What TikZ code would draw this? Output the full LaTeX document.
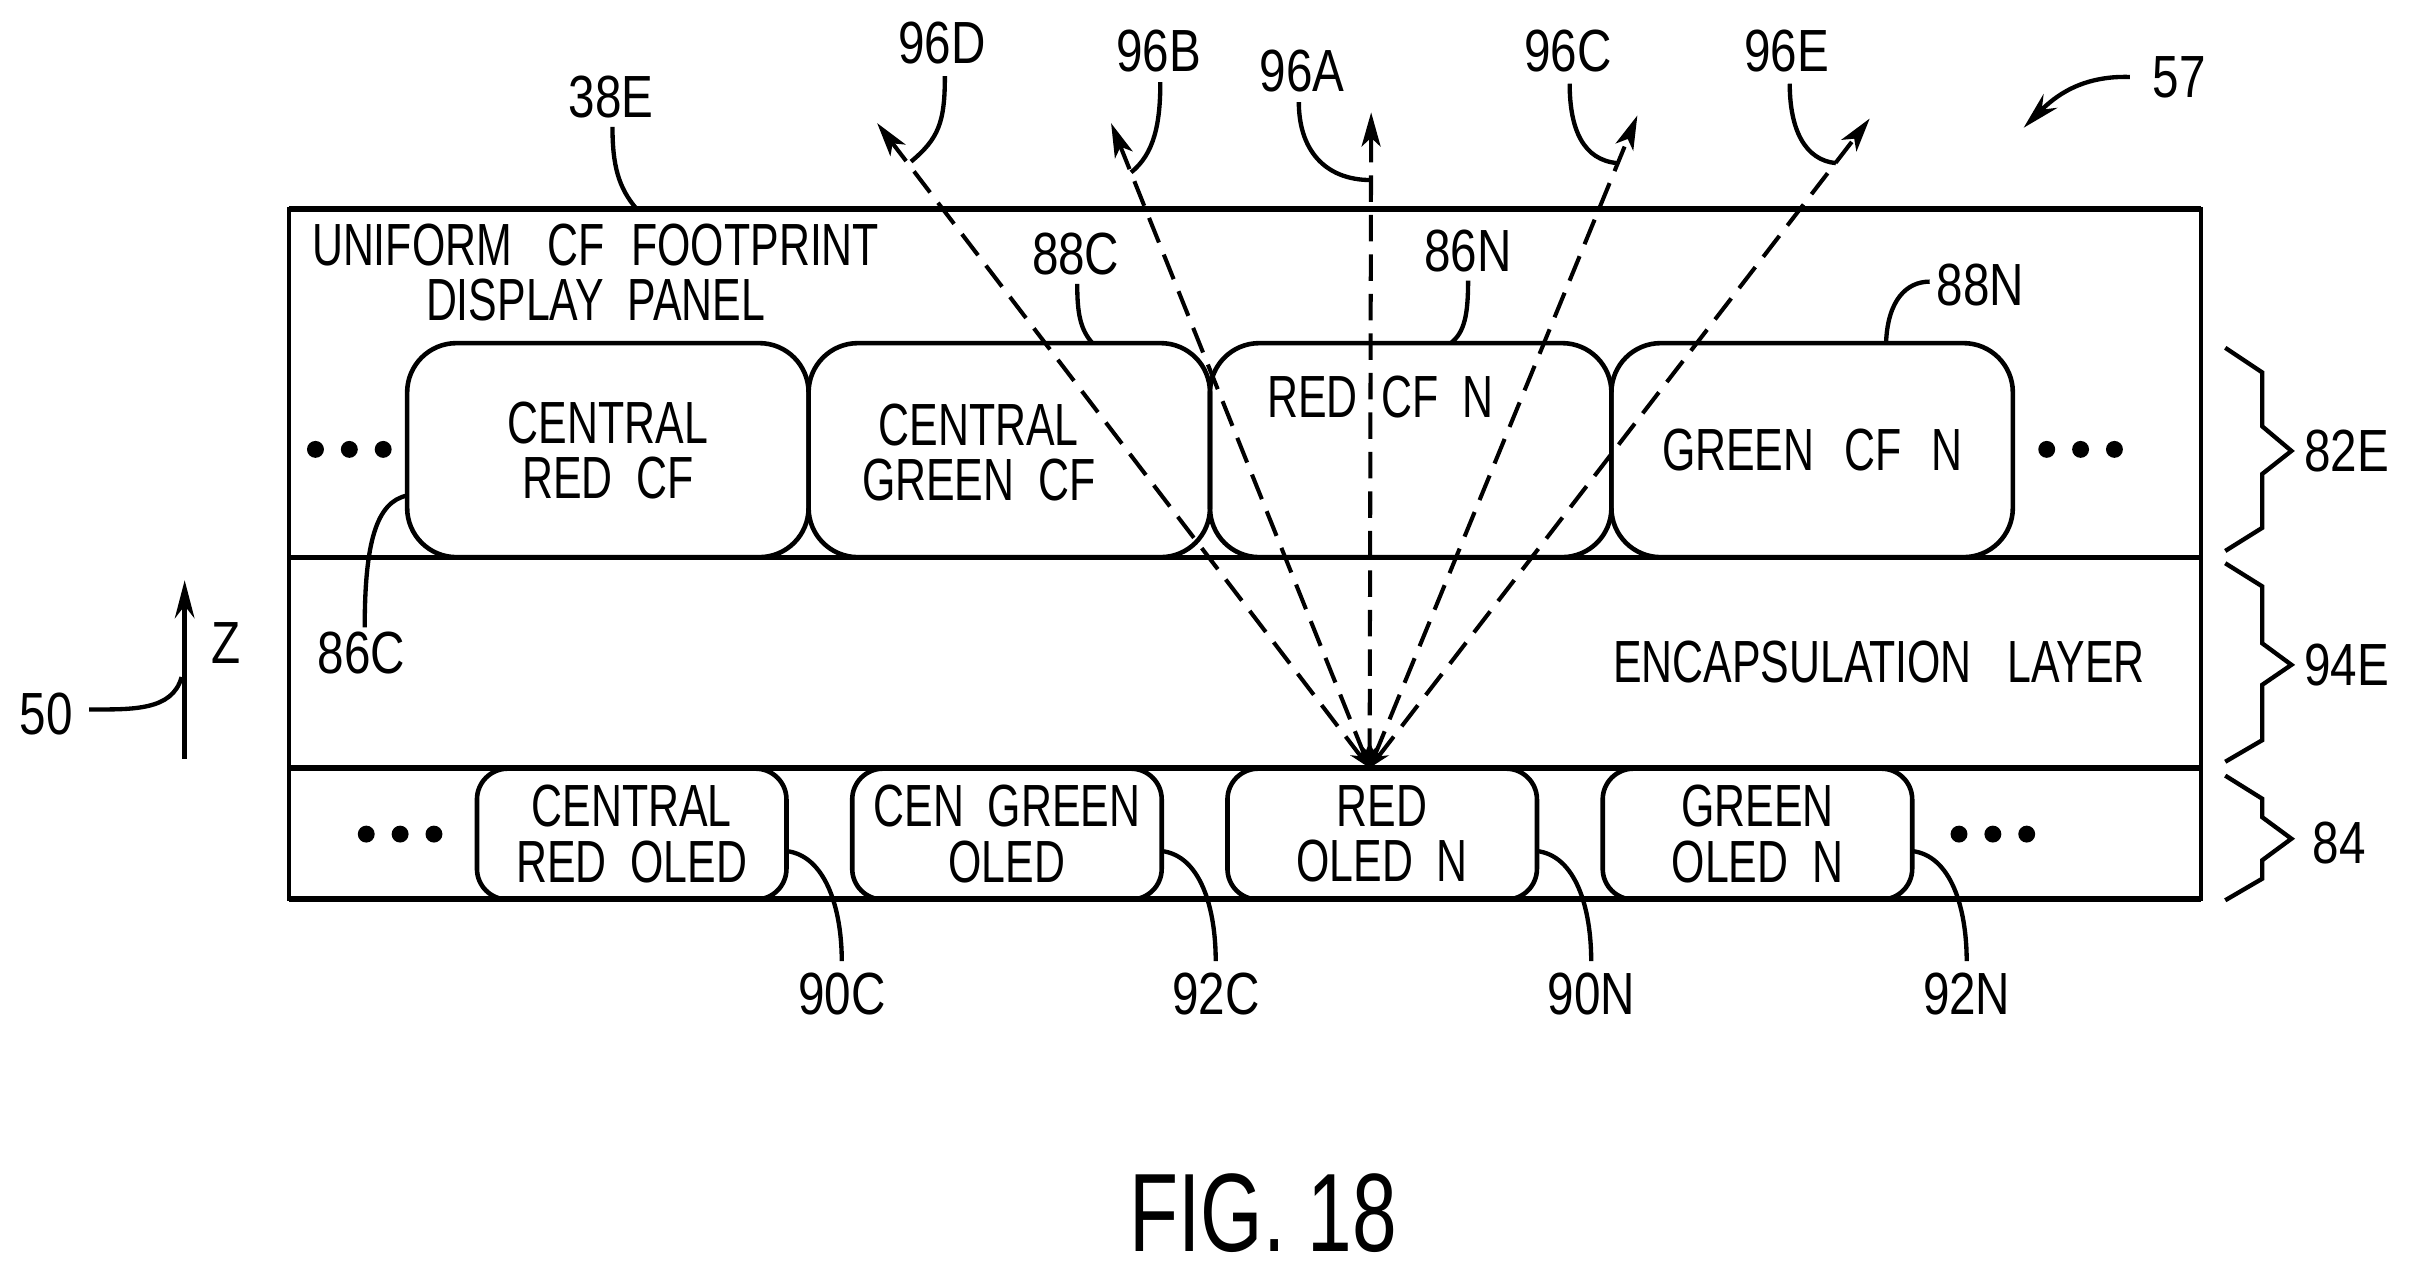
\documentclass[tikz,border=0pt]{standalone}
\usepackage{fontspec}
\setmainfont[FakeStretch=0.72]{Liberation Sans}
\newfontfamily\numfont[FakeStretch=0.8]{Liberation Sans}
\usetikzlibrary{arrows.meta,positioning}
\begin{document}
\begin{tikzpicture}[x=0.01cm,y=-0.01cm,
  panel/.style={line width=1.05pt},
  lead/.style={line width=0.8pt},
  lbl/.style={font=\numfont\fontsize{11}{11}\selectfont,inner sep=0pt,align=center},
  txt/.style={font=\fontsize{11}{10.2}\selectfont,inner sep=0pt,align=center},
  cfbox/.style={draw,line width=0.85pt,rounded corners=0.32cm,minimum width=2.607cm,minimum height=1.39cm,inner sep=0pt,outer sep=0pt,font=\fontsize{11}{10.2}\selectfont,align=center},
  oledbox/.style={draw,line width=0.85pt,rounded corners=0.2cm,minimum width=2.01cm,minimum height=0.85cm,inner sep=0pt,outer sep=0pt,font=\fontsize{11}{10.2}\selectfont,align=center},
  ray/.style={line width=0.75pt,dash pattern=on 4.9pt off 2.4pt,{Stealth[length=4pt,width=2.8pt]}-{Stealth[length=6.3pt,width=3.5pt,inset=1.6pt]}}]

    \useasboundingbox (0,0) rectangle (1568,826.6);

    % layers of the panel
    \node[draw,line width=0.65pt,inner sep=0pt,outer sep=0pt,minimum width=12.42cm,minimum height=4.48cm] (stack) at (809,360) {};
    \draw[panel] (stack.north west) -- (stack.north east);
    \draw[panel] (stack.south west) -- (stack.south east);
    \draw[line width=0.9pt] (188,362) coordinate (midl) -- (1430,362) coordinate (midr);
    \draw[panel] (188,499) coordinate (lowl) -- (1430,499) coordinate (lowr);

    \node[cfbox] (redcf) at (395,292.5) {CENTRAL\\RED\ \ CF};
    \node[cfbox,right=0cm of redcf] (greencf) {};
    \node[cfbox,right=0cm of greencf] (redcfn) {};
    \node[cfbox,right=0cm of redcfn] (greencfn) {GREEN\hspace{5.5pt}CF\hspace{5.5pt}N};

    \node[oledbox] (redoled) at (410.5,542) {CENTRAL\\RED\ \ OLED};
    \node[oledbox,right=0.427cm of redoled] (greenoled) {CEN\ \ GREEN\\OLED};
    \node[oledbox,right=0.427cm of greenoled] (redoledn) {RED\\OLED\ \ N};
    \node[oledbox,right=0.427cm of redoledn] (greenoledn) {GREEN\\OLED\ \ N};

    \node[txt] (title) at (387,177) {UNIFORM\hspace{6.5pt}CF\hspace{5pt}FOOTPRINT\\DISPLAY\ \ PANEL};
    \node[txt] (greencftxt) at (636,294) {CENTRAL\\GREEN\ \ CF};
    \node[txt] (redcfntxt) at (897,258) {RED\ \ CF\ \ N};
    \node[txt] (encap) at (1221,430) {ENCAPSULATION\hspace{6.6pt}LAYER};

    % dots
    \foreach \nm/\px/\py in {dotsa/227/292,dotsb/1352/292,dotsc/260/542,dotsd/1295/542}{
      \foreach \dx in {-22,0,22}
        \fill (\px+\dx,\py) circle[radius=5.5];
    }

    % light rays
    \coordinate (apex) at (890,499);
    \coordinate (tipd) at (570,80);
    \coordinate (tipb) at (722,80);
    \coordinate (tipa) at (891,73);
    \coordinate (tipc) at (1064,75);
    \coordinate (tipe) at (1215,77);
    \foreach \tip in {tipd,tipb,tipa,tipc,tipe}
      \draw[ray] (apex) -- (\tip);

    % labels
    \node[lbl] (l38e) at (397,63) {38E};
    \node[lbl] (l96d) at (612,28) {96D};
    \node[lbl] (l96b) at (753,33) {96B};
    \node[lbl] (l96a) at (846,46) {96A};
    \node[lbl] (l96c) at (1019,33) {96C};
    \node[lbl] (l96e) at (1161,33) {96E};
    \node[lbl] (l57) at (1416,50) {57};
    \node[lbl] (l88c) at (699,165) {88C};
    \node[lbl] (l86n) at (954,163) {86N};
    \node[lbl] (l88n) at (1287,185) {88N};
    \node[lbl] (l86c) at (235,424) {86C};
    \node[lbl] (l50) at (30,464) {50};
    \node[lbl] (lz) at (147,418) {Z};
    \node[lbl] (l82e) at (1525,293) {82E};
    \node[lbl] (l94e) at (1525,432) {94E};
    \node[lbl] (l84) at (1520,548) {84};
    \node[lbl] (l90c) at (547,646) {90C};
    \node[lbl] (l92c) at (790,646) {92C};
    \node[lbl] (l90n) at (1034,646) {90N};
    \node[lbl] (l92n) at (1278,646) {92N};
    \node[font=\fontsize{20.6}{21}\selectfont,inner sep=0pt] (fig) at (821,788) {FIG. 18};

    % where the leaders meet the rays
    \coordinate (hitd) at (592,105);
    \coordinate (hitb) at (735,112);
    \coordinate (hita) at (891,117);
    \coordinate (hitc) at (1051,106);
    \coordinate (hite) at (1193,106);
    \coordinate (viewpt) at (1315,83);
    \coordinate (zbase) at (120,493);
    \coordinate (ztip) at (120,377);

    % draw leaders for top side
    \draw[lead] ([shift={(1,5)}]l38e.south) .. controls +(0,25) and +(-12,-14) .. ([xshift=2.26cm]stack.north west);
    \draw[lead] ([shift={(2,7)}]l96d.south) .. controls +(0,30) and +(18,-15) .. (hitd);
    \draw[lead] ([shift={(1,6)}]l96b.south) .. controls +(0,27) and +(15,-12) .. (hitb);
    \draw[lead] ([shift={(-2,6)}]l96a.south) .. controls +(0,30) and +(-31,0) .. (hita);
    \draw[lead] ([shift={(1,7)}]l96c.south) .. controls +(0,30) and +(-22,-2) .. (hitc);
    \draw[lead] ([shift={(2,7)}]l96e.south) .. controls +(0,30) and +(-20,-2) .. (hite);
    \draw[lead] ([shift={(1,5)}]l88c.south) .. controls +(0,19) and +(-8,-9) .. ([xshift=0.54cm]greencf.north);
    \draw[lead] ([yshift=-0.05cm]l86n.south) .. controls +(0,22) and +(9,-7) .. ([xshift=0.26cm]redcfn.north);
    \draw[lead] ([shift={(-4,-2)}]l88n.west) .. controls +(-15,0) and +(1,-28) .. ([xshift=0.48cm]greencfn.north);
    \draw[lead,-{Stealth[length=7pt,width=3.6pt]}] ([xshift=-0.14cm]l57.west) .. controls +(-32,-1) and +(20,-20) .. (viewpt);

    % draw leaders for left side
    \draw[lead] ([shift={(2,-2)}]l86c.north) .. controls +(0,-55) and +(-20,4) .. ([yshift=-0.295cm]redcf.west);
    \draw[line width=1pt,-{Stealth[length=7pt,width=3.6pt]}] (zbase) -- (ztip);
    \draw[lead] ([shift={(10,-3)}]l50.east) .. controls +(28,0) and +(-6,22) .. ([yshift=0.53cm,xshift=-0.02cm]zbase);

    % draw leaders for lower side
    \draw[lead] ([yshift=-0.11cm]redoled.east) .. controls +(25,3) and +(0,-35) .. ([yshift=0.07cm]l90c.north);
    \draw[lead] ([yshift=-0.11cm]greenoled.east) .. controls +(25,3) and +(0,-35) .. ([yshift=0.07cm]l92c.north);
    \draw[lead] ([yshift=-0.11cm]redoledn.east) .. controls +(25,3) and +(0,-35) .. ([yshift=0.07cm]l90n.north);
    \draw[lead] ([yshift=-0.11cm]greenoledn.east) .. controls +(25,3) and +(0,-35) .. ([yshift=0.07cm]l92n.north);

    % draw braces
    \draw[lead] (1446,226) -- (1470,242) -- (1470,277) -- (1489,293) -- (1470,308) -- (1470,343) -- (1446,358);
    \draw[lead] (1446,366) -- (1470,381) -- (1470,418) -- (1489,432) -- (1470,445) -- (1470,481) -- (1446,495);
    \draw[lead] (1446,504) -- (1470,519) -- (1470,531) -- (1489,545) -- (1470,559) -- (1470,571) -- (1446,585);
\end{tikzpicture}
\end{document}
